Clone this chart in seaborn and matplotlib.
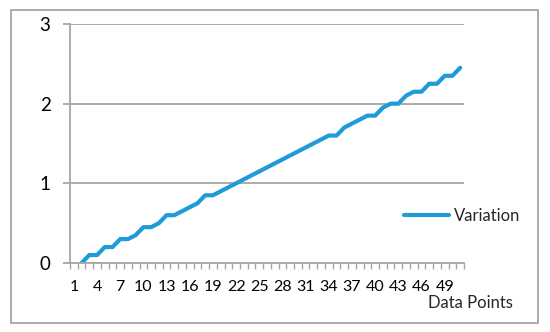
import numpy as np
import pandas as pd
import matplotlib
matplotlib.use("Agg")
import matplotlib.pyplot as plt
import seaborn as sns
from matplotlib.patches import Rectangle
from matplotlib.ticker import FixedLocator, MultipleLocator

# data (first category is empty)
points = list(range(1, 52))
variation = [np.nan, 0.0, 0.1, 0.1, 0.2, 0.2, 0.3, 0.3, 0.35, 0.45, 0.45,
             0.5, 0.6, 0.6, 0.65, 0.7, 0.75, 0.85, 0.85, 0.9, 0.95,
             1.0, 1.05, 1.1, 1.15, 1.2, 1.25, 1.3, 1.35, 1.4, 1.45,
             1.5, 1.55, 1.6, 1.6, 1.7, 1.75, 1.8, 1.85, 1.85, 1.95,
             2.0, 2.0, 2.1, 2.15, 2.15, 2.25, 2.25, 2.35, 2.35, 2.45]
tick_labels = list(range(1, 50, 3))

df = pd.DataFrame({"Data Points": points, "Variation": variation})

sns.set_style("white")
plt.rcParams['font.family'] = ['Lato', 'DejaVu Sans']

fig = plt.figure(figsize=(5.5, 3.32), dpi=100)
ax = fig.add_axes([70/550, 1-263/332, 394/550, 239/332])

grey = "#a6a6a6"
line_col = "#1e9bd8"

sns.lineplot(data=df, x="Data Points", y="Variation", ax=ax,
             color=line_col, linewidth=3, label="Variation",
             solid_capstyle="round")

ax.set_xlim(0.5, 51.5)
ax.set_ylim(0, 3)
ax.set_yticks([0, 1, 2, 3])
ax.set_yticklabels(["0", "1", "2", "3"])
ax.xaxis.set_major_locator(FixedLocator(tick_labels))
ax.set_xticklabels([str(t) for t in tick_labels])
ax.xaxis.set_minor_locator(MultipleLocator(1, offset=0.5))

ax.grid(axis="y", color=grey, linewidth=1.3)
ax.set_axisbelow(True)
for s in ["top", "right"]:
    ax.spines[s].set_visible(False)
for s in ["left", "bottom"]:
    ax.spines[s].set_color(grey)
    ax.spines[s].set_linewidth(1.3)

ax.tick_params(axis="y", which="major", length=5, width=1.3, color=grey,
               direction="out", left=True, labelsize=13.5, pad=9, labelcolor="black")
ax.tick_params(axis="x", which="major", length=0, labelsize=11.5, pad=12,
               labelcolor="black")
ax.tick_params(axis="x", which="minor", length=4.5, width=1, color=grey,
               direction="out", bottom=True)

ax.set_xlabel("")
ax.set_ylabel("")
ax.get_legend().remove()

fig.legend(loc="center left", bbox_to_anchor=(404/550, 1-216/332),
           frameon=False, fontsize=12, handlelength=2.7,
           handletextpad=0.3, borderaxespad=0, borderpad=0)

fig.text(470/550, 1-303/332, "Data Points", ha="center", va="center",
         fontsize=12)

fig.patches.append(Rectangle((11/550, 1-323/332), 527/550, 313/332,
                             transform=fig.transFigure, fill=False,
                             edgecolor=grey, linewidth=1.3))

fig.savefig("out.png", dpi=100)
